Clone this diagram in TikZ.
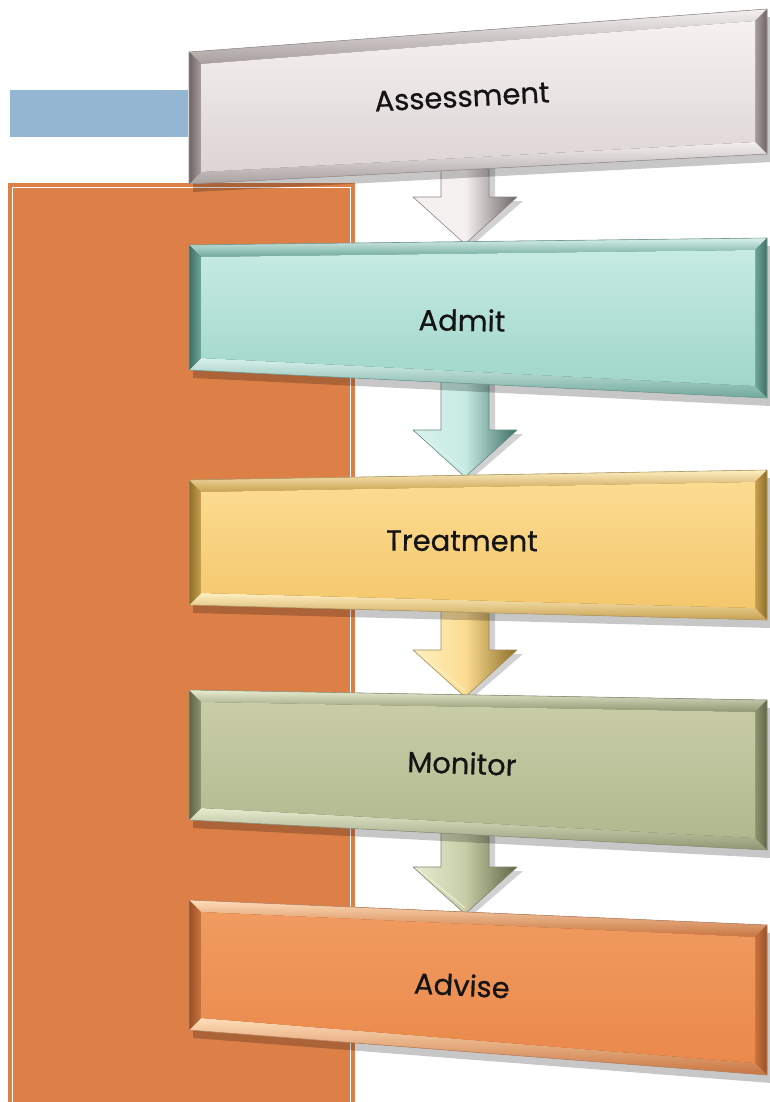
\documentclass[tikz,border=0pt]{standalone}
\usepackage{fontspec}
\setmainfont{Poppins}
\newfontfamily\stagefont[FakeBold=0.7]{Poppins}
\usetikzlibrary{calc}
\definecolor{panelorange}{HTML}{DD8047}
\definecolor{barblue}{HTML}{94B6D2}
% Assessment
\definecolor{asTop}{HTML}{F6F1F1}\definecolor{asBot}{HTML}{DDD4D4}
\definecolor{asLight}{HTML}{F4F0F0}\definecolor{asDark}{HTML}{6E6464}\definecolor{asMid}{HTML}{A89E9E}
% Admit
\definecolor{adTop}{HTML}{C6EBE3}\definecolor{adBot}{HTML}{A0D6CA}
\definecolor{adLight}{HTML}{D9F2EC}\definecolor{adDark}{HTML}{3E6E64}\definecolor{adMid}{HTML}{6FA79A}
% Treatment
\definecolor{trTop}{HTML}{FCDC92}\definecolor{trBot}{HTML}{F4C76C}
\definecolor{trLight}{HTML}{FFF0C2}\definecolor{trDark}{HTML}{8C6E28}\definecolor{trMid}{HTML}{C8A050}
% Monitor
\definecolor{moTop}{HTML}{C8CDA8}\definecolor{moBot}{HTML}{B2B88E}
\definecolor{moLight}{HTML}{E8ECD0}\definecolor{moDark}{HTML}{5F6545}\definecolor{moMid}{HTML}{8E9570}
% Advise
\definecolor{avTop}{HTML}{F09B60}\definecolor{avBot}{HTML}{EA894B}
\definecolor{avLight}{HTML}{FFDDB8}\definecolor{avDark}{HTML}{9A5024}\definecolor{avMid}{HTML}{C87440}
\tikzset{
  stagetext/.style={font=\stagefont\fontsize{29}{32}\selectfont, text=black!92},
  boxshadow/.style={fill=black, opacity=0.22},
  arrowshadow/.style={fill=black, opacity=0.18},
}
% #1 name, #2 TL, #3 TR, #4 BR, #5 BL, #6 colour prefix, #7 text, #8 rotation, #9 text position
\newcommand\stagebox[9]{%
  \coordinate (#1-tl) at (#2);
  \coordinate (#1-tr) at (#3);
  \coordinate (#1-br) at (#4);
  \coordinate (#1-bl) at (#5);
  \coordinate (#1-itl) at ($(#1-tl)+(12,12)$);
  \coordinate (#1-itr) at ($(#1-tr)+(-12,12)$);
  \coordinate (#1-ibr) at ($(#1-br)+(-12,-12)$);
  \coordinate (#1-ibl) at ($(#1-bl)+(12,-12)$);
  \fill[boxshadow] ($(#1-tl)+(4,8)$) -- ($(#1-tr)+(4,8)$) -- ($(#1-br)+(4,8)$) -- ($(#1-bl)+(4,8)$) -- cycle;
  \fill[#6Dark] (#1-tl) -- (#1-tr) -- (#1-br) -- (#1-bl) -- cycle;
  \shade[top color=#6Light, bottom color=#6Mid] (#1-tl) -- (#1-tr) -- (#1-itr) -- (#1-itl) -- cycle;
  \shade[left color=#6Mid, right color=#6Dark] (#1-tr) -- (#1-br) -- (#1-ibr) -- (#1-itr) -- cycle;
  \shade[top color=#6Light, bottom color=#6Mid] (#1-ibl) -- (#1-ibr) -- (#1-br) -- (#1-bl) -- cycle;
  \shade[left color=#6Dark, right color=#6Mid] (#1-tl) -- (#1-itl) -- (#1-ibl) -- (#1-bl) -- cycle;
  \shade[top color=#6Top, bottom color=#6Bot] (#1-itl) -- (#1-itr) -- (#1-ibr) -- (#1-ibl) -- cycle;
  \draw[#6Dark!70, line width=0.6pt] (#1-tl) -- (#1-tr) -- (#1-br) -- (#1-bl) -- cycle;
  \node[stagetext, rotate=#8] (#1) at (#9) {#7};
}
% #1 source, #2 target, #3 colour prefix
\newcommand\stagearrow[3]{%
  \fill[arrowshadow] ($(#1-s)+(-18,-8)$) -- ($(#2-n)+(-18,-41)$) -- ($(#2-n)+(-46,-41)$) --
     ($(#2-n)+(6,4)$) -- ($(#2-n)+(58,-41)$) -- ($(#2-n)+(30,-41)$) -- ($(#1-s)+(30,-8)$) -- cycle;
  \shade[left color=#3Light, right color=#3Dark, middle color=#3Top]
     ($(#1-s)+(-24,-12)$) -- ($(#2-n)+(-24,-45)$) -- ($(#2-n)+(-52,-45)$) --
     ($(#2-n)+(0,2)$) -- ($(#2-n)+(52,-45)$) -- ($(#2-n)+(24,-45)$) -- ($(#1-s)+(24,-12)$) -- cycle;
  \draw[#3Dark!80, line width=0.6pt, line join=round]
     ($(#1-s)+(-24,-12)$) -- ($(#2-n)+(-24,-45)$) -- ($(#2-n)+(-52,-45)$) --
     ($(#2-n)+(0,2)$) -- ($(#2-n)+(52,-45)$) -- ($(#2-n)+(24,-45)$) -- ($(#1-s)+(24,-12)$);
  \draw[#3Light, line width=1.2pt] ($(#2-n)+(-46,-42)$) -- ($(#2-n)+(0,-4)$);
}
\begin{document}
\begin{tikzpicture}[x=1pt, y=-1pt]
  \useasboundingbox (0,0) rectangle (769,1102);
  \fill[white] (0,0) rectangle (769,1102);
  % background panels
  \fill[barblue] (10,90) rectangle (188,137);
  \fill[panelorange] (8,183) rectangle (355,1102);
  \draw[white, line width=1.2pt] (12.5,187.5) -- (350.5,187.5) -- (350.5,1102);
  \draw[white, line width=1.2pt] (12.5,187.5) -- (12.5,1102);
  % arrow end points on the box edges
  \coordinate (as-s) at (465,169);
  \coordinate (ad-n) at (465,242);
  \coordinate (ad-s) at (465,384);
  \coordinate (tr-n) at (465,475);
  \coordinate (tr-s) at (465,612);
  \coordinate (mo-n) at (465,695);
  \coordinate (mo-s) at (465,834);
  \coordinate (av-n) at (465,912);
  % arrows first, so the shafts start under the boxes
  \stagearrow{as}{ad}{as}
  \stagearrow{ad}{tr}{ad}
  \stagearrow{tr}{mo}{tr}
  \stagearrow{mo}{av}{mo}
  % boxes
  \stagebox{assess}{189,52}{767,9}{767,154}{189,184}{as}{Assessment}{3}{462,97}
  \stagebox{admit}{189,245}{767,238}{767,398}{189,370}{ad}{Admit}{-1}{462,320}
  \stagebox{treat}{189,480}{767,470}{767,620}{189,605}{tr}{Treatment}{-0.3}{462,541}
  \stagebox{monitor}{189,690}{767,700}{767,850}{189,820}{mo}{Monitor}{-2}{462,763}
  \stagebox{advise}{189,900}{767,925}{767,1075}{189,1030}{av}{Advise}{-3}{462,985}
\end{tikzpicture}
\end{document}
